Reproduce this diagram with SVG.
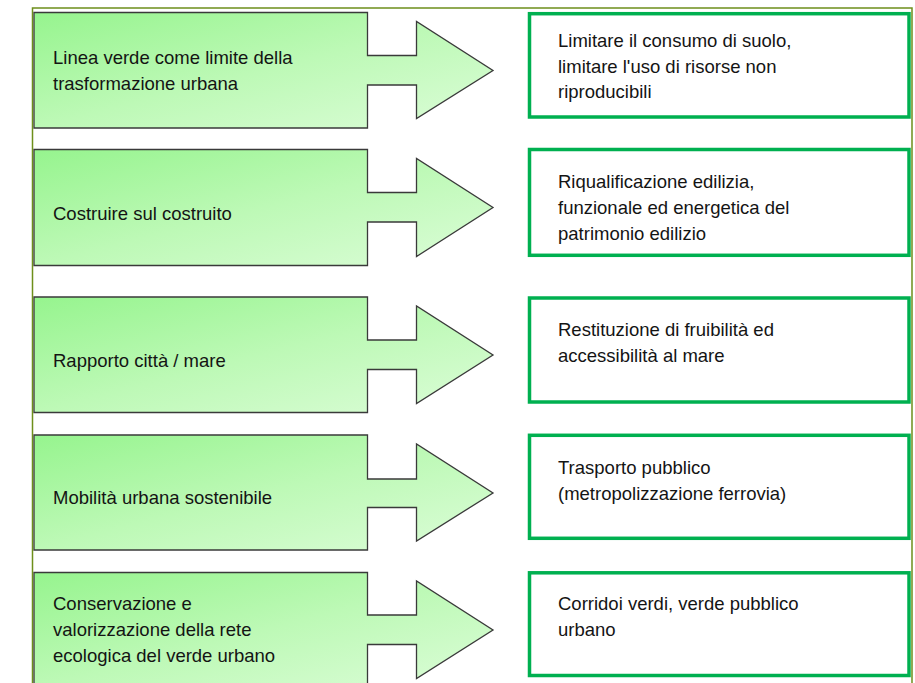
<svg xmlns="http://www.w3.org/2000/svg" width="915" height="683" viewBox="0 0 915 683">
<defs>
<linearGradient id="gr" x1="0" y1="0" x2="1" y2="1">
<stop offset="0" stop-color="#96f48e"/>
<stop offset="0.5" stop-color="#bdf9b6"/>
<stop offset="1" stop-color="#dcfdd8"/>
</linearGradient>
</defs>
<style>
.src{fill:url(#gr);stroke:#3a3a3a;stroke-width:1.3;stroke-linejoin:miter}
.dst{fill:#ffffff;stroke:#00b050;stroke-width:3.5}
text{font-family:"Liberation Sans",Arial,sans-serif;font-size:18.5px;fill:#141414}
.frame{fill:none;stroke:#6e8f1b;stroke-width:1.5}
</style>
<rect width="915" height="683" fill="#ffffff"/>
<path class="frame" d="M32.5,690 V8 H912 V690"/>
<g id="connectors"></g>
<g id="n1">
<path class="src" d="M34,12.5 H367.5 V55.5 H416.5 V21.5 L493,70.5 L416.5,118.5 V85 H367.5 V128 H34 Z"/>
<text x="53" y="64">Linea verde come limite della</text>
<text x="53" y="90">trasformazione urbana</text>
</g>
<g id="n2">
<path class="src" d="M34,149.5 H367.5 V192.5 H416.5 V158.5 L493,207.5 L416.5,256.5 V222 H367.5 V265.5 H34 Z"/>
<text x="53" y="220">Costruire sul costruito</text>
</g>
<g id="n3">
<path class="src" d="M34,297 H367.5 V340 H416.5 V306 L493,355 L416.5,403.5 V369.5 H367.5 V412.5 H34 Z"/>
<text x="53" y="367">Rapporto città  / mare</text>
</g>
<g id="n4">
<path class="src" d="M34,435 H367.5 V479 H416.5 V444 L493,493 L416.5,541 V507.5 H367.5 V550 H34 Z"/>
<text x="53" y="504">Mobilità urbana sostenibile</text>
</g>
<g id="n5">
<path class="src" d="M34,572.5 H367.5 V615 H416.5 V581 L493,630 L416.5,678.5 V644.5 H367.5 V688 H34 Z"/>
<text x="53" y="610">Conservazione e</text>
<text x="53" y="636">valorizzazione della rete</text>
<text x="53" y="662">ecologica del verde urbano</text>
</g>
<g id="m1">
<rect class="dst" x="529.5" y="13.7" width="379.5" height="103.3"/>
<text x="558" y="47">Limitare il consumo di suolo,</text>
<text x="558" y="72.5">limitare l'uso di risorse non</text>
<text x="558" y="98">riproducibili</text>
</g>
<g id="m2">
<rect class="dst" x="529.5" y="149.5" width="379.5" height="105.8"/>
<text x="558" y="188">Riqualificazione edilizia,</text>
<text x="558" y="214">funzionale ed energetica del</text>
<text x="558" y="240">patrimonio edilizio</text>
</g>
<g id="m3">
<rect class="dst" x="529.5" y="298" width="379.5" height="104"/>
<text x="558" y="336">Restituzione di fruibilità ed</text>
<text x="558" y="362">accessibilità al mare</text>
</g>
<g id="m4">
<rect class="dst" x="529.5" y="435.3" width="379.5" height="103"/>
<text x="558" y="473.5">Trasporto pubblico</text>
<text x="558" y="499.5">(metropolizzazione ferrovia)</text>
</g>
<g id="m5">
<rect class="dst" x="529.5" y="572.8" width="379.5" height="102.7"/>
<text x="558" y="610">Corridoi verdi, verde pubblico</text>
<text x="558" y="636">urbano</text>
</g>
</svg>
